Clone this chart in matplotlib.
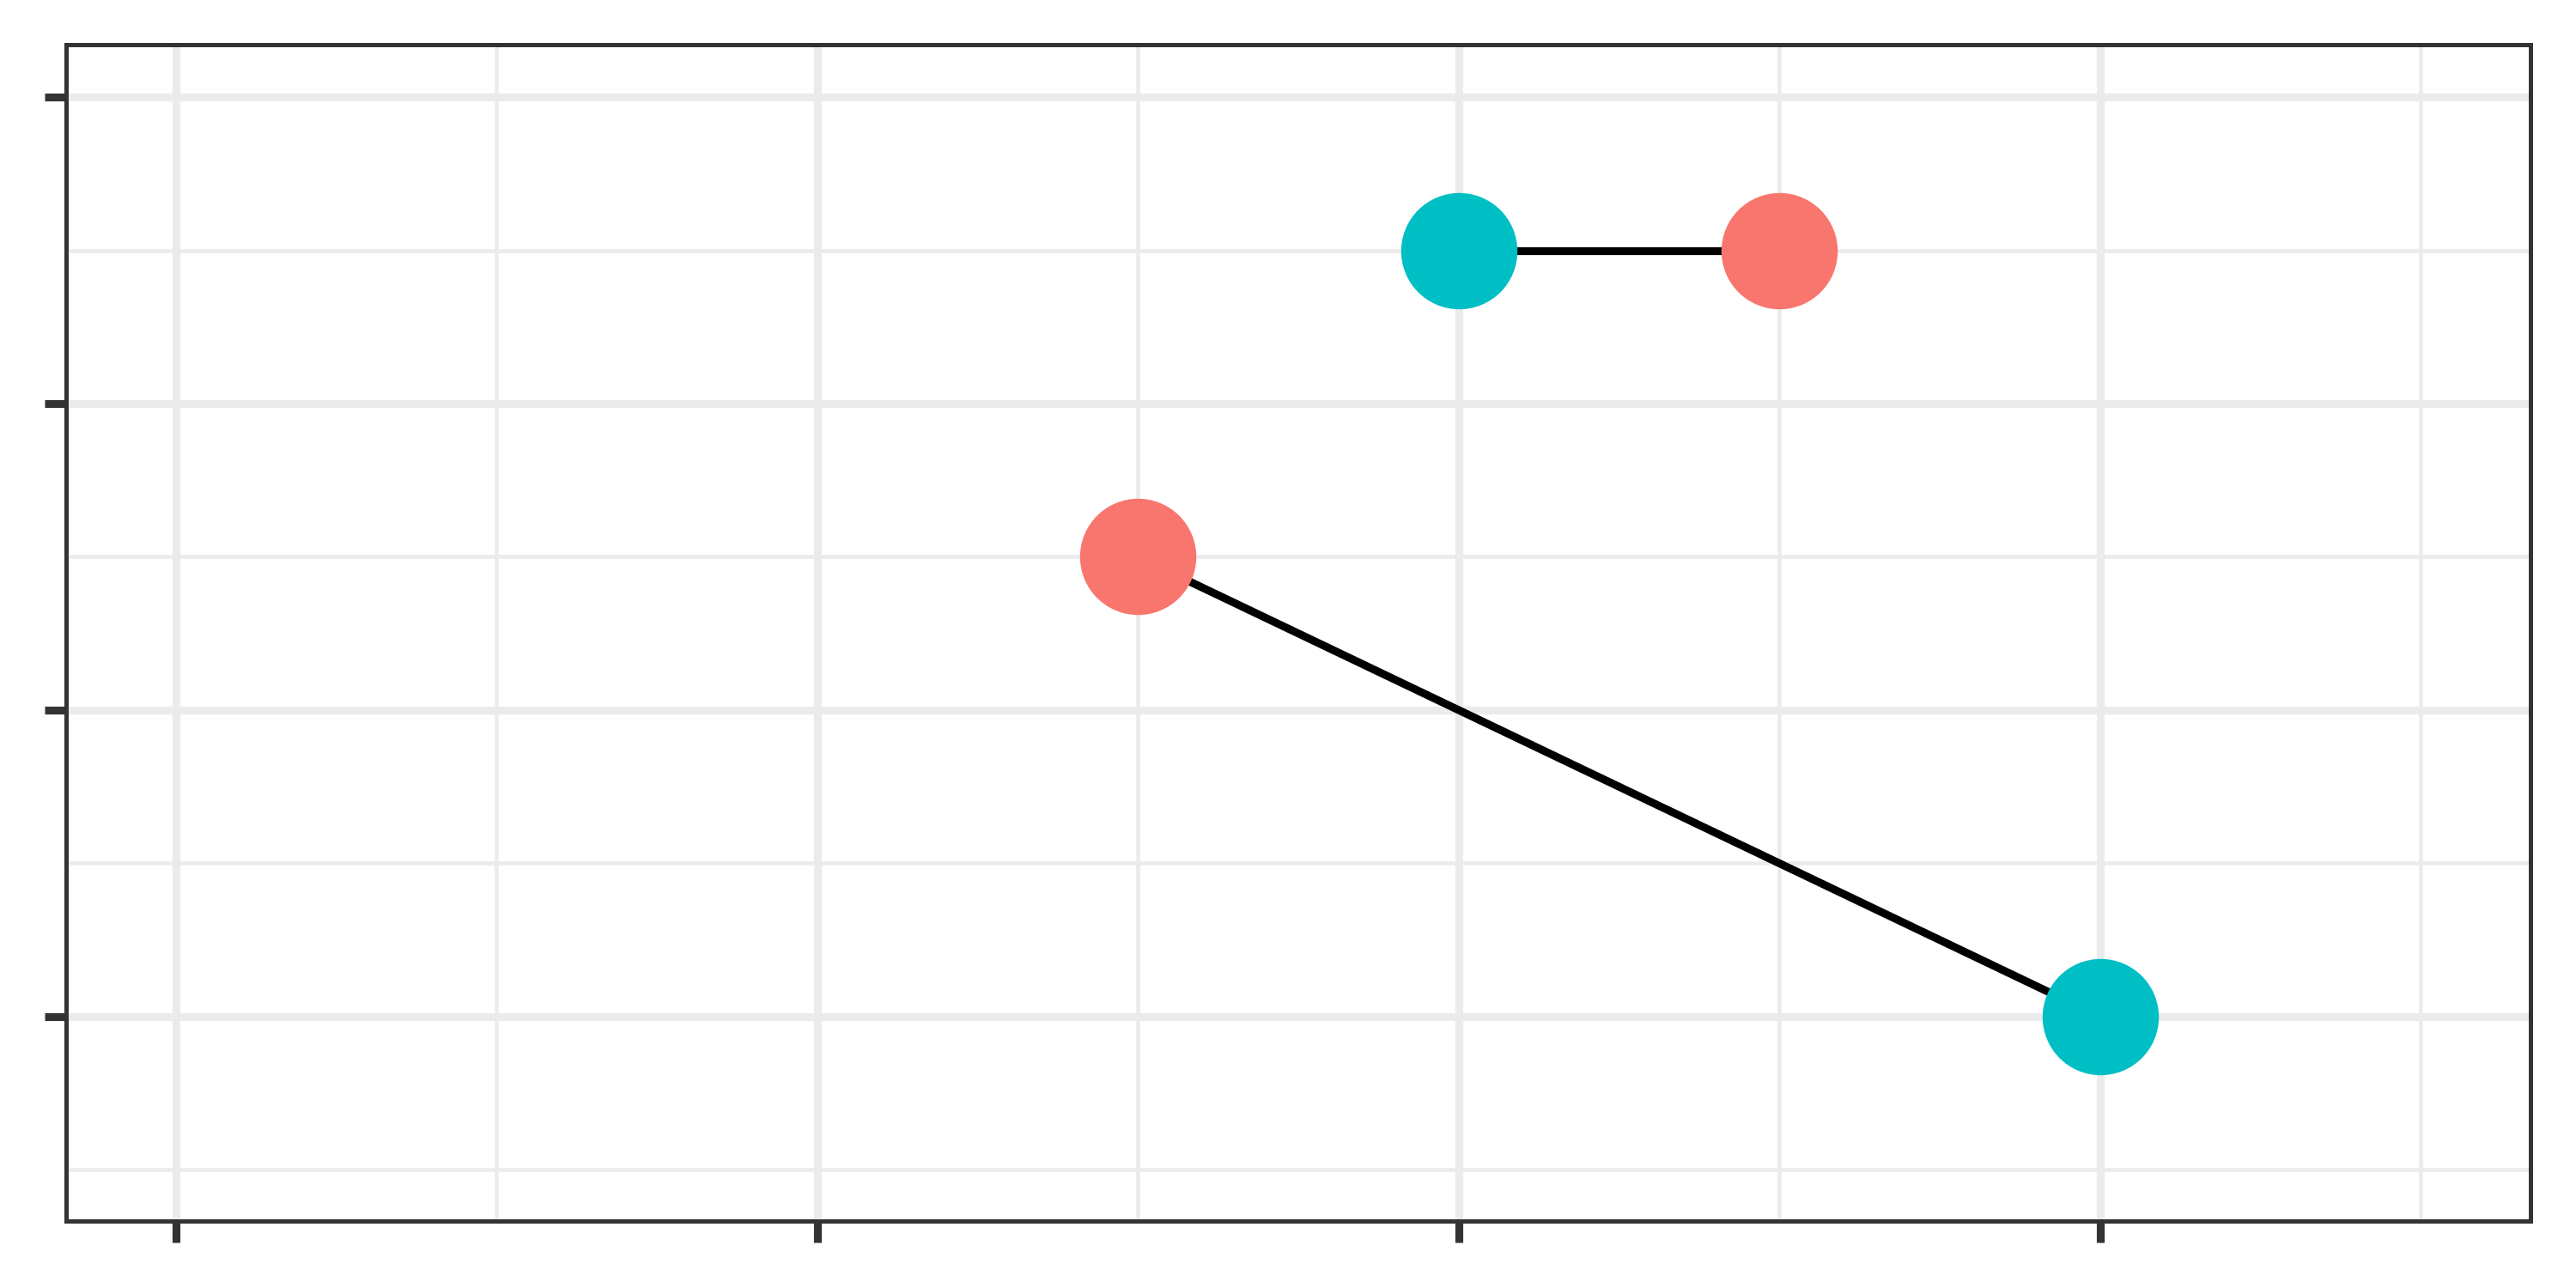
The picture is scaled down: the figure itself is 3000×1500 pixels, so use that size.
import numpy as np
import matplotlib.pyplot as plt
from matplotlib.ticker import MultipleLocator

# two pairs: teal point -> salmon point
teal_x = [2.0, 3.0]
teal_y = [3.5, 1.0]
red_x = [2.5, 1.5]
red_y = [3.5, 2.5]

x_ticks = [0, 1, 2, 3]
y_ticks = [1, 2, 3, 4]

TEAL = '#00BFC4'
RED = '#F8766D'
GRID = '#EBEBEB'
FRAME = '#333333'

fig = plt.figure(figsize=(10, 5), dpi=300)
ax = fig.add_axes([77/3000, 1 - 1422/1500, (2947 - 77)/3000, (1422 - 52)/1500])

for x0, y0, x1, y1 in zip(teal_x, teal_y, red_x, red_y):
    ax.plot([x0, x1], [y0, y1], color='black', lw=2.2, zorder=2, solid_capstyle='butt')

ax.scatter(teal_x, teal_y, s=32.5**2, color=TEAL, linewidths=0, zorder=3)
ax.scatter(red_x, red_y, s=32.5**2, color=RED, linewidths=0, zorder=3)

ax.set_xlim(-0.171, 3.671)
ax.set_ylim(0.333, 4.171)

ax.set_xticks(x_ticks)
ax.set_yticks(y_ticks)
ax.xaxis.set_minor_locator(MultipleLocator(0.5))
ax.yaxis.set_minor_locator(MultipleLocator(0.5))
ax.set_xticklabels([])
ax.set_yticklabels([])

ax.set_axisbelow(True)
ax.grid(which='major', color=GRID, lw=2.2)
ax.grid(which='minor', color=GRID, lw=1.1)
ax.tick_params(which='major', length=6, width=2.2, color=FRAME)
ax.tick_params(which='minor', length=0)

for sp in ax.spines.values():
    sp.set_color(FRAME)
    sp.set_linewidth(1.2)

fig.savefig('out.png', dpi=300, facecolor='white')
